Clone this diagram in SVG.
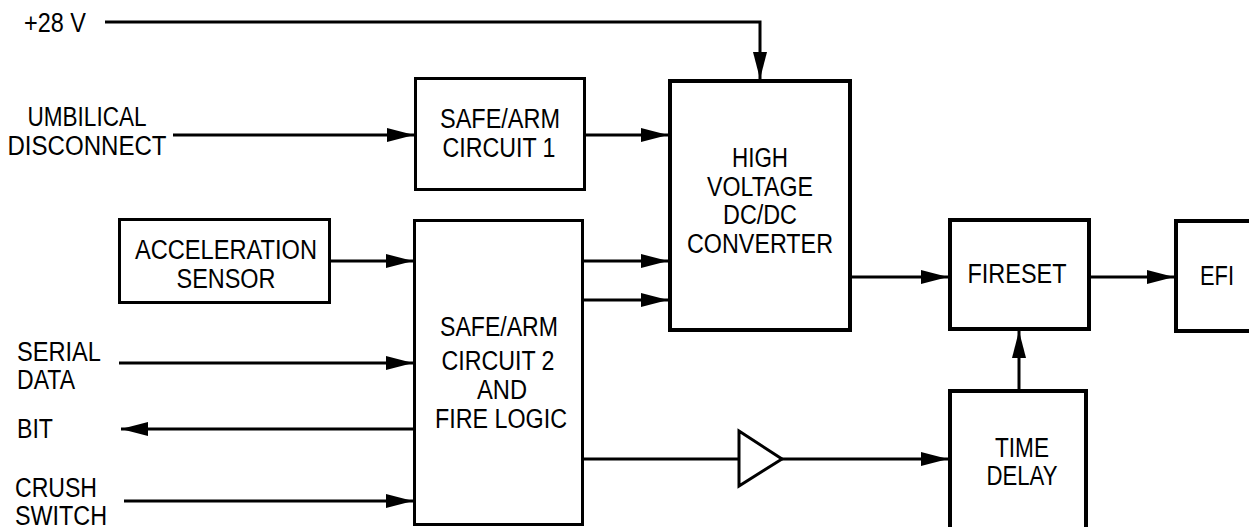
<svg xmlns="http://www.w3.org/2000/svg" width="1249" height="527" viewBox="0 0 1249 527">
<style>
text{font-family:"Liberation Sans",Arial,sans-serif;font-size:27px;fill:#000}
.c{text-anchor:middle}
.box{fill:#fff;stroke:#000;stroke-width:3}
.thick{stroke-width:4}
.wire{fill:none;stroke:#000;stroke-width:3}
.arr{marker-end:url(#ah)}
</style>
<defs>
<marker id="ah" markerUnits="userSpaceOnUse" markerWidth="28" markerHeight="16" refX="27" refY="7" orient="auto">
<path d="M0,0 L27,7 L0,14 z" fill="#000"/>
</marker>
</defs>
<rect width="1249" height="527" fill="#fff"/>
<g id="connectors">
<polyline class="wire arr" points="105,22 760,22 760,79"/>
<line class="wire arr" x1="173" y1="135" x2="414" y2="135"/>
<line class="wire arr" x1="586" y1="135" x2="668" y2="135"/>
<line class="wire arr" x1="331" y1="261" x2="413" y2="261"/>
<line class="wire arr" x1="584" y1="261" x2="668" y2="261"/>
<line class="wire arr" x1="584" y1="300" x2="668" y2="300"/>
<line class="wire arr" x1="852" y1="277" x2="948" y2="277"/>
<line class="wire arr" x1="1091" y1="277" x2="1174" y2="277"/>
<line class="wire arr" x1="119" y1="363" x2="413" y2="363"/>
<line class="wire arr" x1="413" y1="429" x2="121" y2="429"/>
<line class="wire arr" x1="124" y1="501" x2="413" y2="501"/>
<line class="wire" x1="584" y1="459" x2="738" y2="459"/>
<polygon class="wire" points="739,431 782,459 739,486"/>
<line class="wire arr" x1="782" y1="459" x2="948" y2="459"/>
<line class="wire arr" x1="1019" y1="389" x2="1019" y2="331"/>
</g>
<g id="label-28v"><text x="24" y="32" textLength="62" lengthAdjust="spacingAndGlyphs">+28 V</text></g>
<g id="label-umbilical"><text class="c" x="87" y="126" textLength="119" lengthAdjust="spacingAndGlyphs">UMBILICAL</text><text class="c" x="87" y="155" textLength="159" lengthAdjust="spacingAndGlyphs">DISCONNECT</text></g>
<g id="label-serial"><text x="17" y="361" textLength="84" lengthAdjust="spacingAndGlyphs">SERIAL</text><text x="17" y="389" textLength="58" lengthAdjust="spacingAndGlyphs">DATA</text></g>
<g id="label-bit"><text x="17" y="438" textLength="36" lengthAdjust="spacingAndGlyphs">BIT</text></g>
<g id="label-crush"><text x="15" y="497" textLength="82" lengthAdjust="spacingAndGlyphs">CRUSH</text><text x="15" y="525" textLength="92" lengthAdjust="spacingAndGlyphs">SWITCH</text></g>
<g id="safearm1"><rect class="box" x="415.5" y="78.5" width="169" height="111"/><text class="c" x="500" y="128" textLength="120" lengthAdjust="spacingAndGlyphs">SAFE/ARM</text><text class="c" x="499" y="157" textLength="113" lengthAdjust="spacingAndGlyphs">CIRCUIT 1</text></g>
<g id="hv"><rect class="box thick" x="670" y="81" width="180" height="249"/><text class="c" x="760" y="167" textLength="56" lengthAdjust="spacingAndGlyphs">HIGH</text><text class="c" x="760" y="196" textLength="106" lengthAdjust="spacingAndGlyphs">VOLTAGE</text><text class="c" x="760" y="224" textLength="74" lengthAdjust="spacingAndGlyphs">DC/DC</text><text class="c" x="760" y="253" textLength="146" lengthAdjust="spacingAndGlyphs">CONVERTER</text></g>
<g id="accel"><rect class="box" x="119.5" y="219.5" width="210" height="83"/><text class="c" x="226" y="259" textLength="182" lengthAdjust="spacingAndGlyphs">ACCELERATION</text><text class="c" x="226" y="288" textLength="99" lengthAdjust="spacingAndGlyphs">SENSOR</text></g>
<g id="safearm2"><rect class="box" x="414.5" y="220.5" width="168" height="304"/><text class="c" x="499" y="336" textLength="118" lengthAdjust="spacingAndGlyphs">SAFE/ARM</text><text class="c" x="498" y="370" textLength="113" lengthAdjust="spacingAndGlyphs">CIRCUIT 2</text><text class="c" x="502" y="399" textLength="50" lengthAdjust="spacingAndGlyphs">AND</text><text class="c" x="501" y="428" textLength="132" lengthAdjust="spacingAndGlyphs">FIRE LOGIC</text></g>
<g id="fireset"><rect class="box thick" x="950" y="220" width="139" height="109"/><text class="c" x="1017" y="283" textLength="99" lengthAdjust="spacingAndGlyphs">FIRESET</text></g>
<g id="efi"><rect class="box thick" x="1176" y="221" width="100" height="110"/><text x="1200" y="285" textLength="34" lengthAdjust="spacingAndGlyphs">EFI</text></g>
<g id="timedelay"><rect class="box thick" x="950" y="391" width="136" height="150"/><text class="c" x="1022" y="457" textLength="54" lengthAdjust="spacingAndGlyphs">TIME</text><text class="c" x="1022" y="485" textLength="71" lengthAdjust="spacingAndGlyphs">DELAY</text></g>
</svg>
